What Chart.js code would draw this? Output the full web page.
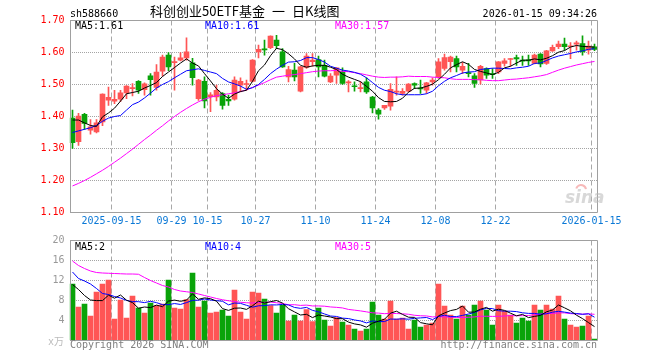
<!DOCTYPE html>
<html>
<head>
<meta charset="utf-8">
<title>sh588660 日K线图</title>
<script src="https://cdn.jsdelivr.net/npm/chart.js@4.4.1/dist/chart.umd.min.js"></script>
<style>
    html, body { margin: 0; padding: 0; background: #fff; }
    #wrap { position: relative; width: 660px; height: 360px; }
    #wrap canvas { position: absolute; left: 0; top: 0; }
</style>
</head>
<body>
<div id="wrap">
    <canvas id="kline-chart" width="660" height="360"></canvas>
    <canvas id="volume-chart" width="660" height="360"></canvas>
</div>
<script>
var dates = [
    "2025-09-04", "2025-09-05", "2025-09-08", "2025-09-09", "2025-09-10", "2025-09-11", "2025-09-12", "2025-09-15", "2025-09-16", "2025-09-17",
    "2025-09-18", "2025-09-19", "2025-09-22", "2025-09-23", "2025-09-24", "2025-09-25", "2025-09-26", "2025-09-29", "2025-09-30", "2025-10-09",
    "2025-10-10", "2025-10-13", "2025-10-14", "2025-10-15", "2025-10-16", "2025-10-17", "2025-10-20", "2025-10-21", "2025-10-22", "2025-10-23",
    "2025-10-24", "2025-10-27", "2025-10-28", "2025-10-29", "2025-10-30", "2025-10-31", "2025-11-03", "2025-11-04", "2025-11-05", "2025-11-06",
    "2025-11-07", "2025-11-10", "2025-11-11", "2025-11-12", "2025-11-13", "2025-11-14", "2025-11-17", "2025-11-18", "2025-11-19", "2025-11-20",
    "2025-11-21", "2025-11-24", "2025-11-25", "2025-11-26", "2025-11-27", "2025-11-28", "2025-12-01", "2025-12-02", "2025-12-03", "2025-12-04",
    "2025-12-05", "2025-12-08", "2025-12-09", "2025-12-10", "2025-12-11", "2025-12-12", "2025-12-15", "2025-12-16", "2025-12-17", "2025-12-18",
    "2025-12-19", "2025-12-22", "2025-12-23", "2025-12-24", "2025-12-25", "2025-12-26", "2025-12-29", "2025-12-30", "2025-12-31", "2026-01-05",
    "2026-01-06", "2026-01-07", "2026-01-08", "2026-01-09", "2026-01-12", "2026-01-13", "2026-01-14", "2026-01-15"
];

var opens = [
    1.395, 1.321, 1.407, 1.357, 1.352, 1.383, 1.451, 1.448, 1.454, 1.474,
    1.487, 1.510, 1.484, 1.527, 1.491, 1.542, 1.592, 1.568, 1.576, 1.583,
    1.568, 1.456, 1.510, 1.462, 1.461, 1.472, 1.454, 1.454, 1.498, 1.500,
    1.510, 1.602, 1.611, 1.615, 1.639, 1.602, 1.524, 1.545, 1.479, 1.553,
    1.571, 1.578, 1.560, 1.508, 1.529, 1.540, 1.505, 1.496, 1.487, 1.508,
    1.461, 1.420, 1.427, 1.432, 1.476, 1.472, 1.479, 1.503, 1.489, 1.482,
    1.508, 1.524, 1.550, 1.571, 1.581, 1.545, 1.537, 1.527, 1.514, 1.550,
    1.534, 1.539, 1.566, 1.578, 1.584, 1.576, 1.577, 1.566, 1.595, 1.566,
    1.605, 1.618, 1.626, 1.618, 1.626, 1.628, 1.607, 1.618
];
var highs = [
    1.420, 1.410, 1.410, 1.390, 1.390, 1.471, 1.492, 1.482, 1.482, 1.497,
    1.503, 1.512, 1.505, 1.534, 1.562, 1.592, 1.600, 1.586, 1.600, 1.646,
    1.582, 1.516, 1.524, 1.475, 1.498, 1.475, 1.467, 1.524, 1.521, 1.514,
    1.578, 1.623, 1.639, 1.652, 1.654, 1.612, 1.557, 1.566, 1.557, 1.597,
    1.597, 1.589, 1.576, 1.534, 1.552, 1.552, 1.512, 1.508, 1.508, 1.521,
    1.463, 1.425, 1.435, 1.503, 1.524, 1.487, 1.503, 1.505, 1.514, 1.507,
    1.521, 1.581, 1.595, 1.589, 1.589, 1.569, 1.566, 1.534, 1.560, 1.552,
    1.550, 1.572, 1.581, 1.582, 1.592, 1.589, 1.592, 1.595, 1.597, 1.607,
    1.623, 1.636, 1.645, 1.631, 1.636, 1.652, 1.636, 1.626
];
var lows = [
    1.300, 1.310, 1.360, 1.345, 1.349, 1.371, 1.435, 1.440, 1.446, 1.456,
    1.464, 1.472, 1.467, 1.467, 1.482, 1.526, 1.543, 1.482, 1.574, 1.576,
    1.498, 1.450, 1.427, 1.415, 1.449, 1.423, 1.435, 1.451, 1.477, 1.482,
    1.508, 1.583, 1.592, 1.612, 1.612, 1.553, 1.508, 1.511, 1.477, 1.550,
    1.557, 1.524, 1.524, 1.506, 1.503, 1.500, 1.477, 1.479, 1.477, 1.472,
    1.411, 1.392, 1.422, 1.420, 1.467, 1.467, 1.477, 1.487, 1.472, 1.472,
    1.498, 1.519, 1.545, 1.539, 1.539, 1.534, 1.524, 1.491, 1.501, 1.519,
    1.519, 1.534, 1.557, 1.557, 1.560, 1.560, 1.560, 1.564, 1.555, 1.563,
    1.603, 1.612, 1.607, 1.581, 1.607, 1.592, 1.595, 1.606
];
var closes = [
    1.318, 1.401, 1.378, 1.368, 1.380, 1.470, 1.460, 1.454, 1.474, 1.495,
    1.490, 1.482, 1.502, 1.515, 1.539, 1.586, 1.555, 1.572, 1.583, 1.602,
    1.521, 1.514, 1.449, 1.468, 1.482, 1.435, 1.449, 1.514, 1.510, 1.503,
    1.576, 1.610, 1.608, 1.651, 1.621, 1.555, 1.547, 1.524, 1.555, 1.589,
    1.576, 1.555, 1.526, 1.526, 1.552, 1.503, 1.508, 1.493, 1.490, 1.477,
    1.427, 1.407, 1.435, 1.485, 1.479, 1.479, 1.501, 1.498, 1.486, 1.505,
    1.514, 1.571, 1.584, 1.586, 1.555, 1.557, 1.534, 1.503, 1.557, 1.529,
    1.531, 1.571, 1.574, 1.581, 1.580, 1.573, 1.574, 1.592, 1.564, 1.605,
    1.616, 1.626, 1.618, 1.621, 1.630, 1.602, 1.620, 1.610
];

var ma5 = [
    1.389, 1.389, 1.380, 1.372, 1.369, 1.399, 1.411, 1.426, 1.448, 1.471,
    1.475, 1.479, 1.489, 1.497, 1.506, 1.525, 1.539, 1.553, 1.567, 1.580,
    1.567, 1.558, 1.534, 1.511, 1.487, 1.470, 1.457, 1.470, 1.478, 1.482,
    1.510, 1.543, 1.561, 1.590, 1.613, 1.609, 1.596, 1.580, 1.560, 1.554,
    1.558, 1.560, 1.560, 1.554, 1.547, 1.532, 1.523, 1.516, 1.509, 1.494,
    1.479, 1.459, 1.447, 1.446, 1.447, 1.457, 1.476, 1.488, 1.489, 1.494,
    1.501, 1.515, 1.532, 1.552, 1.562, 1.571, 1.563, 1.547, 1.541, 1.536,
    1.531, 1.538, 1.552, 1.557, 1.567, 1.576, 1.576, 1.580, 1.577, 1.582,
    1.590, 1.601, 1.606, 1.617, 1.622, 1.619, 1.618, 1.617
];
var ma10 = [
    1.350, 1.355, 1.360, 1.365, 1.372, 1.385, 1.395, 1.400, 1.403, 1.420,
    1.437, 1.445, 1.458, 1.473, 1.489, 1.500, 1.509, 1.521, 1.532, 1.543,
    1.546, 1.549, 1.544, 1.539, 1.534, 1.519, 1.508, 1.502, 1.495, 1.485,
    1.490, 1.500, 1.516, 1.534, 1.548, 1.560, 1.570, 1.571, 1.575, 1.584,
    1.584, 1.578, 1.570, 1.557, 1.551, 1.545, 1.542, 1.538, 1.532, 1.521,
    1.506, 1.491, 1.482, 1.478, 1.471, 1.468, 1.468, 1.468, 1.468, 1.471,
    1.479, 1.496, 1.510, 1.521, 1.528, 1.536, 1.539, 1.540, 1.547, 1.549,
    1.551, 1.551, 1.550, 1.549, 1.552, 1.554, 1.557, 1.566, 1.567, 1.575,
    1.583, 1.589, 1.593, 1.597, 1.602, 1.605, 1.610, 1.612
];
var ma30 = [
    1.183, 1.191, 1.200, 1.210, 1.221, 1.232, 1.244, 1.257, 1.270, 1.284,
    1.298, 1.313, 1.328, 1.342, 1.357, 1.371, 1.386, 1.400, 1.413, 1.425,
    1.436, 1.446, 1.454, 1.460, 1.465, 1.468, 1.471, 1.474, 1.478, 1.483,
    1.491, 1.498, 1.506, 1.515, 1.523, 1.526, 1.529, 1.531, 1.534, 1.537,
    1.540, 1.542, 1.543, 1.543, 1.544, 1.541, 1.540, 1.537, 1.534, 1.530,
    1.526, 1.523, 1.522, 1.523, 1.523, 1.524, 1.526, 1.525, 1.525, 1.525,
    1.523, 1.522, 1.521, 1.518, 1.516, 1.516, 1.516, 1.515, 1.515, 1.513,
    1.512, 1.512, 1.514, 1.516, 1.517, 1.519, 1.521, 1.524, 1.527, 1.531,
    1.538, 1.545, 1.551, 1.556, 1.561, 1.565, 1.569, 1.572
];

var volumes = [
    11.3, 6.7, 7.3, 4.9, 9.7, 11.3, 12.1, 4.3, 8.1, 4.5,
    8.9, 6.5, 5.5, 7.5, 7.0, 7.3, 12.1, 6.5, 6.3, 8.2,
    13.5, 6.7, 7.9, 5.5, 5.7, 6.1, 4.9, 10.1, 5.7, 4.3,
    9.7, 9.5, 8.3, 7.0, 5.5, 7.1, 3.9, 5.1, 3.9, 6.2,
    3.8, 6.5, 4.1, 2.9, 4.6, 3.7, 3.1, 2.3, 1.9, 2.3,
    7.7, 5.1, 4.3, 7.9, 4.3, 4.5, 2.3, 4.1, 2.7, 3.1,
    3.5, 11.3, 6.9, 5.1, 4.3, 6.9, 5.1, 7.1, 7.9, 6.1,
    3.1, 7.1, 5.9, 5.1, 3.5, 4.5, 3.9, 7.1, 6.1, 7.1,
    6.3, 8.9, 4.3, 3.1, 2.7, 2.9, 4.9, 0.3
];
var volMa5 = [
    11.2, 10.2, 9.0, 8.1, 7.98, 7.98, 9.06, 8.46, 9.10, 8.06,
    7.58, 6.46, 6.70, 6.58, 7.08, 6.76, 7.88, 8.08, 7.84, 8.08,
    9.32, 8.24, 8.52, 8.36, 7.86, 6.38, 6.02, 6.46, 6.50, 6.22,
    6.94, 7.86, 7.50, 7.76, 8.00, 7.48, 6.36, 5.72, 5.10, 5.24,
    4.58, 5.10, 4.90, 4.70, 4.38, 4.36, 3.68, 3.32, 3.12, 2.66,
    3.46, 3.86, 4.26, 5.46, 5.86, 5.22, 4.66, 4.62, 3.58, 3.34,
    3.14, 4.94, 5.50, 5.98, 6.22, 6.90, 5.66, 5.70, 6.26, 6.62,
    5.86, 6.26, 6.02, 5.46, 4.94, 5.22, 4.58, 4.82, 5.02, 5.74,
    6.10, 7.10, 6.54, 5.94, 5.06, 4.38, 3.58, 2.78
];
var volMa10 = [
    13.7, 12.4, 11.9, 11.3, 10.4, 9.4, 9.2, 8.8, 8.5, 8.02,
    7.78, 7.76, 7.58, 7.84, 7.57, 7.17, 7.17, 7.39, 7.21, 7.58,
    8.04, 8.06, 8.30, 8.10, 7.97, 7.85, 7.13, 7.49, 7.43, 7.04,
    6.66, 6.94, 6.98, 7.13, 7.11, 7.21, 7.11, 6.61, 6.43, 6.62,
    6.03, 5.73, 5.31, 4.90, 4.81, 4.47, 4.39, 4.11, 3.91, 3.52,
    3.91, 3.77, 3.79, 4.29, 4.26, 4.34, 4.26, 4.44, 4.52, 4.60,
    4.18, 4.80, 5.06, 4.78, 4.78, 5.02, 5.30, 5.60, 6.12, 6.42,
    6.38, 5.96, 5.86, 5.86, 5.78, 5.54, 5.42, 5.42, 5.24, 5.34,
    5.66, 5.84, 5.68, 5.48, 5.40, 5.24, 5.34, 4.66
];
var volMa30 = [
    15.9, 15.0, 14.4, 13.9, 13.6, 13.5, 13.45, 13.4, 13.35, 13.3,
    13.3, 13.25, 12.6, 12.0, 11.5, 11.0, 10.7, 10.2, 9.9, 9.75,
    9.6, 9.3, 9.0, 8.7, 8.4, 8.15, 7.95, 7.8, 7.65, 7.55,
    7.49, 7.59, 7.62, 7.69, 7.55, 7.41, 7.14, 7.16, 7.02, 7.08,
    6.91, 6.91, 6.86, 6.71, 6.63, 6.51, 6.21, 6.07, 5.92, 5.73,
    5.53, 5.48, 5.36, 5.44, 5.39, 5.34, 5.25, 5.05, 4.95, 4.91,
    4.71, 4.77, 4.72, 4.66, 4.62, 4.61, 4.65, 4.72, 4.85, 4.85,
    4.82, 4.84, 4.90, 4.98, 4.94, 4.97, 4.99, 5.15, 5.29, 5.45,
    5.41, 5.53, 5.53, 5.37, 5.32, 5.27, 5.35, 5.23
];

var tickIndex = [7, 17, 23, 31, 41, 51, 61, 71, 87];
var tickText = ["2025-09-15", "09-29", "10-15", "10-27", "11-10", "11-24", "12-08", "12-22", "2026-01-15"];

(function () {
    "use strict";
    var MONO = "'DejaVu Sans Mono', monospace";
    var CJK = "'Noto Sans CJK SC', sans-serif";
    var upColor = "#ff5555";
    var downColor = "#09a309";
    var frameColor = "#a0a0a0";
    var gridColor = "#a4a4a4";

    var barColors = closes.map(function (c, i) {
        return c >= opens[i] ? upColor : downColor;
    });

    function trunc(v, digits) {
        var f = Math.pow(10, digits);
        return (Math.floor(v * f + 1e-9) / f).toFixed(digits);
    }
    function last(arr) {
        return arr[arr.length - 1];
    }

    function maLine(data, color) {
        return {
            type: "line",
            data: data,
            borderColor: color,
            borderWidth: 1,
            pointRadius: 0,
            tension: 0,
            order: 0
        };
    }

    function xScale(showTicks) {
        return {
            grid: {
                drawTicks: false,
                lineWidth: 1,
                color: function (ctx) {
                    return tickIndex.indexOf(ctx.index) >= 0 ? "#a8a8a8" : "transparent";
                }
            },
            border: { display: false, dash: [5, 3] },
            ticks: {
                display: showTicks,
                autoSkip: false,
                maxRotation: 0,
                padding: 3,
                labelOffset: -3,
                color: "#0a78d6",
                font: { family: MONO, size: 10 },
                callback: function (value, index) {
                    var k = tickIndex.indexOf(index);
                    return k >= 0 ? tickText[k] : "";
                }
            },
            afterFit: function (scale) {
                scale.height = showTicks ? 20 : 0;
            }
        };
    }

    var framePlugin = {
        id: "frame",
        afterDraw: function (chart) {
            var a = chart.chartArea;
            var ctx = chart.ctx;
            ctx.save();
            ctx.strokeStyle = frameColor;
            ctx.lineWidth = 1;
            ctx.beginPath();
            ctx.moveTo(a.left + 1, a.top);
            ctx.lineTo(a.right, a.top);
            ctx.lineTo(a.right, a.bottom);
            ctx.lineTo(a.left + 1, a.bottom);
            ctx.closePath();
            ctx.stroke();
            ctx.restore();
        }
    };

    function text(ctx, str, x, y, color, font, align) {
        ctx.fillStyle = color;
        ctx.font = font;
        ctx.textAlign = align || "left";
        ctx.textBaseline = "alphabetic";
        ctx.fillText(str, x, y);
    }

    var klineText = {
        id: "klineText",
        afterDraw: function (chart) {
            var ctx = chart.ctx;
            var f10 = "10px " + MONO;
            ctx.save();
            text(ctx, "sh588660", 70, 17, "#000", f10);
            text(ctx, "科创创业50ETF基金", 150, 16, "#000", "13px " + CJK);
            text(ctx, "一", 272, 16, "#000", "13px " + CJK);
            text(ctx, "日K线图", 292, 16, "#000", "13px " + CJK);
            text(ctx, "2026-01-15 09:34:26", 597, 17, "#000", f10, "right");
            text(ctx, "MA5:" + trunc(last(ma5), 2), 75, 29, "#000", f10);
            text(ctx, "MA10:" + trunc(last(ma10), 2), 205, 29, "#0000ff", f10);
            text(ctx, "MA30:" + trunc(last(ma30), 2), 335, 29, "#ff00ff", f10);
            // sina watermark
            ctx.globalAlpha = 0.55;
            text(ctx, "sina", 565, 203, "#b8b8b8", "italic bold 17px 'DejaVu Sans', sans-serif");
            ctx.strokeStyle = "#f08080";
            ctx.lineWidth = 2;
            ctx.beginPath();
            ctx.arc(581, 190, 5, Math.PI * 1.1, Math.PI * 1.95);
            ctx.stroke();
            ctx.restore();
        }
    };

    var volumeText = {
        id: "volumeText",
        afterDraw: function (chart) {
            var ctx = chart.ctx;
            var f10 = "10px " + MONO;
            ctx.save();
            text(ctx, "MA5:" + trunc(last(volMa5), 0), 75, 250, "#000", f10);
            text(ctx, "MA10:" + trunc(last(volMa10), 0), 205, 250, "#0000ff", f10);
            text(ctx, "MA30:" + trunc(last(volMa30), 0), 335, 250, "#ff00ff", f10);
            text(ctx, "x万", 48, 345, "#bbbbbb", "10px " + MONO + ", " + CJK);
            text(ctx, "Copyright 2026 SINA.COM", 70, 348, "#808080", f10);
            text(ctx, "http://finance.sina.com.cn", 597, 348, "#808080", f10, "right");
            ctx.restore();
        }
    };

    var ctxKline = document.getElementById("kline-chart").getContext("2d");
    new Chart(ctxKline, {
        type: "bar",
        data: {
            labels: dates,
            datasets: [
                maLine(ma5, "#000000"),
                maLine(ma10, "#0000ff"),
                maLine(ma30, "#ff00ff"),
                {
                    data: opens.map(function (o, i) { return [o, closes[i]]; }),
                    backgroundColor: barColors,
                    barThickness: 5,
                    minBarLength: 1,
                    grouped: false,
                    order: 1
                },
                {
                    data: lows.map(function (l, i) { return [l, highs[i]]; }),
                    backgroundColor: barColors,
                    barThickness: 1,
                    grouped: false,
                    order: 2
                }
            ]
        },
        options: {
            responsive: false,
            animation: false,
            devicePixelRatio: 1,
            layout: { padding: { top: 20.5, right: 62.5, bottom: 127.5, left: 0 } },
            plugins: { legend: { display: false }, tooltip: { enabled: false } },
            scales: {
                x: xScale(true),
                y: {
                    min: 1.1,
                    max: 1.7,
                    grid: { drawTicks: false, color: gridColor },
                    border: { display: false, dash: [1, 1] },
                    ticks: {
                        stepSize: 0.1,
                        padding: 5,
                        color: "#ff0000",
                        font: { family: MONO, size: 10 },
                        callback: function (v) { return v.toFixed(2); }
                    },
                    afterFit: function (scale) { scale.width = 69.5; }
                }
            }
        },
        plugins: [framePlugin, klineText]
    });

    var ctxVolume = document.getElementById("volume-chart").getContext("2d");
    new Chart(ctxVolume, {
        type: "bar",
        data: {
            labels: dates,
            datasets: [
                maLine(volMa5, "#000000"),
                maLine(volMa10, "#0000ff"),
                maLine(volMa30, "#ff00ff"),
                {
                    data: volumes,
                    backgroundColor: barColors,
                    barThickness: 5,
                    grouped: false,
                    order: 1
                }
            ]
        },
        options: {
            responsive: false,
            animation: false,
            devicePixelRatio: 1,
            layout: { padding: { top: 240.5, right: 62.5, bottom: 19.5, left: 0 } },
            plugins: { legend: { display: false }, tooltip: { enabled: false } },
            scales: {
                x: xScale(false),
                y: {
                    min: 0,
                    max: 20,
                    grid: { drawTicks: false, color: gridColor },
                    border: { display: false, dash: [1, 1] },
                    ticks: {
                        stepSize: 4,
                        padding: 5,
                        color: "#999999",
                        font: { family: MONO, size: 10 },
                        callback: function (v) { return v === 0 ? "" : v; }
                    },
                    afterFit: function (scale) { scale.width = 69.5; }
                }
            }
        },
        plugins: [framePlugin, volumeText]
    });
})();
</script>
</body>
</html>
